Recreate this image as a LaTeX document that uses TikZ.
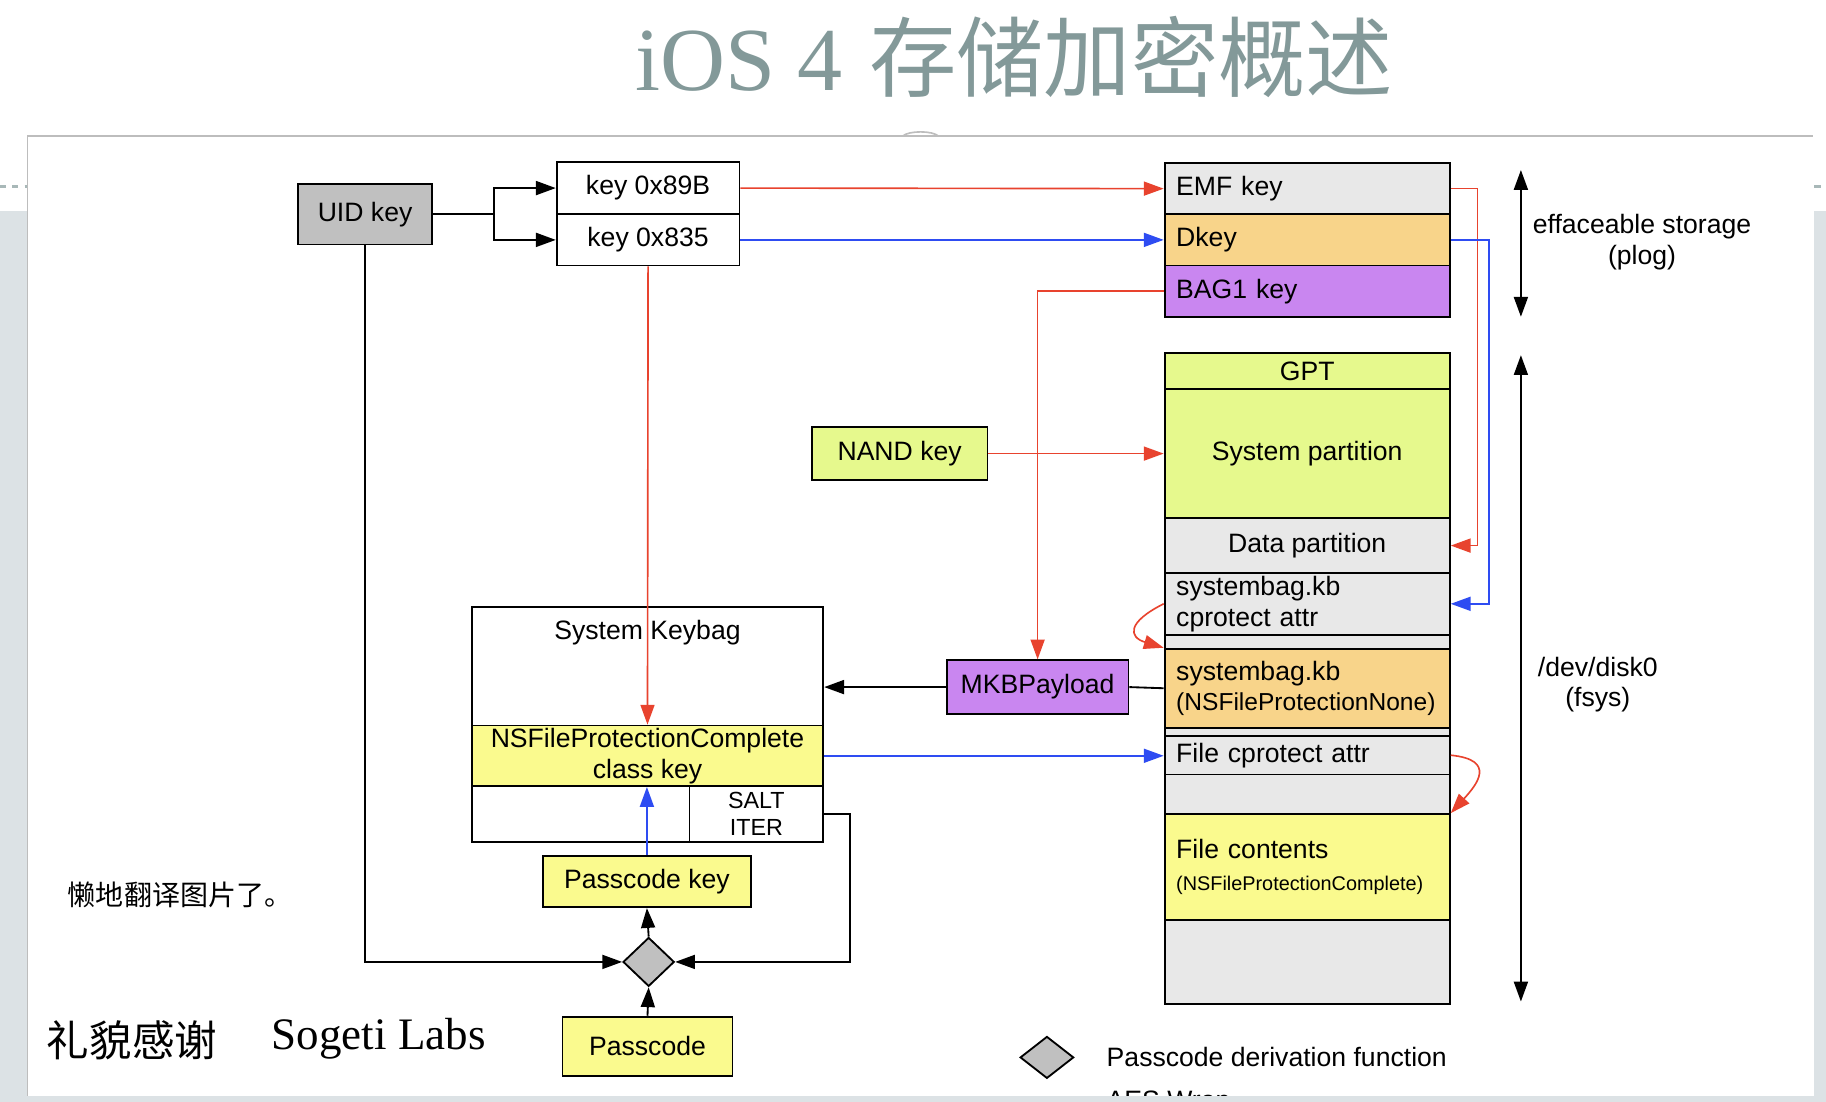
\documentclass[tikz,border=0pt]{standalone}
\usepackage{fontspec}
\setmainfont{Liberation Sans}
\newfontfamily\cjk{Noto Sans CJK SC}
\newfontfamily\titleserif{Liberation Serif}
\usetikzlibrary{arrows.meta,shapes.geometric}
\definecolor{uidgray}{HTML}{C0C0C0}
\definecolor{cellgray}{HTML}{E8E8E8}
\definecolor{orng}{HTML}{F8D48A}
\definecolor{purp}{HTML}{C986F0}
\definecolor{grn}{HTML}{E6F98D}
\definecolor{ylw}{HTML}{FAFA8E}
\definecolor{redl}{HTML}{E8432E}
\definecolor{bluel}{HTML}{2E4CF2}
\definecolor{slidegray}{HTML}{DCE2E5}
\definecolor{titlegray}{HTML}{839999}
\definecolor{panelline}{HTML}{BDBDBD}
\newcommand{\diafont}{\fontsize{13}{15}\selectfont}
\newcommand{\saltfont}{\fontsize{11.4}{13}\selectfont}
\newcommand{\tinyfont}{\fontsize{9.7}{12}\selectfont}
\newcommand{\nonefont}{\fontsize{12}{15}\selectfont}
\tikzset{
  cell/.style={draw=black, line width=0.9pt, inner sep=0pt, font=\diafont},
  ccell/.style={cell, minimum width=4.9cm, align=center},
  lcell/.style={cell, text width=4.5cm, inner xsep=0.2cm, align=left},
  tip/.style={-{Triangle[length=0.34cm,width=0.24cm]}},
  arr/.style={tip, line width=0.9pt},
  redarr/.style={tip, redl, line width=0.8pt},
  bluearr/.style={tip, bluel, line width=0.8pt},
  dblarr/.style={{Triangle[length=0.34cm,width=0.24cm]}-{Triangle[length=0.34cm,width=0.24cm]}, line width=0.9pt},
  pdfun/.style={diamond, draw=black, fill=uidgray, line width=0.9pt, inner sep=0pt, aspect=1}
}
\begin{document}
\begin{tikzpicture}[x=0.02cm,y=-0.02cm]
\useasboundingbox (0,0) rectangle (1568,946);
% slide background
\fill[white] (0,0) rectangle (1568,946);
\fill[slidegray] (0,181) rectangle (23.5,946);
\fill[slidegray] (1558,181) rectangle (1568,946);
\draw[titlegray!70, dashed, line width=1.2pt] (0,160) -- (23,160);
\draw[titlegray!70, dashed, line width=1.2pt] (1558,160) -- (1568,160);
\draw[panelline, line width=0.8pt] (23.5,941) -- (23.5,117) -- (1557,117);
\draw[panelline, line width=0.8pt] (775,117) .. controls (780,112) and (801,112) .. (806,117);
\node[anchor=base, text=titlegray, inner sep=0pt] (title) at (871,78)
  {{\titleserif\fontsize{44}{48}\selectfont iOS 4}\hspace{0.45cm}{\cjk\fontsize{42.7}{48}\selectfont 存储加密概述}};

% keys
\node[cell, fill=uidgray, minimum width=2.3cm, minimum height=1.04cm] (uidkey) at (313.5,184) {UID key};
\node[cell, fill=white, minimum width=3.14cm, minimum height=0.9cm] (keyA) at (556.5,161.5) {key 0x89B};
\node[cell, fill=white, minimum width=3.14cm, minimum height=0.88cm] (keyB) at (556.5,206) {key 0x835};
\node[lcell, fill=cellgray, minimum height=0.88cm] (emf) at (1122.5,162) {EMF key};
\node[lcell, fill=orng, minimum height=0.88cm] (dkey) at (1122.5,206) {Dkey};
\node[lcell, fill=purp, minimum height=0.88cm] (bagkey) at (1122.5,250) {BAG1 key};

% disk layout
\node[ccell, fill=grn, minimum height=0.62cm] (gpt) at (1122.5,318.5) {GPT};
\node[ccell, fill=grn, minimum height=2.22cm] (syspart) at (1122.5,389.5) {System partition};
\node[ccell, fill=cellgray, minimum height=0.94cm] (datapart) at (1122.5,468.5) {Data partition};
\node[lcell, fill=cellgray, minimum height=1.06cm] (sbattr) at (1122.5,518.5) {systembag.kb\\cprotect attr};
\node[ccell, fill=cellgray, minimum height=0.24cm] (gapA) at (1122.5,551) {};
\node[lcell, fill=orng, minimum height=1.36cm] (sbnone) at (1122.5,591) {systembag.kb\\{\nonefont (NSFileProtectionNone)}};
\node[ccell, fill=cellgray, minimum height=0.14cm] (gapB) at (1122.5,628.5) {};
\node[lcell, fill=cellgray, minimum height=0.66cm] (fattr) at (1122.5,648.5) {File cprotect attr};
\node[ccell, fill=cellgray, minimum height=0.68cm] (gapC) at (1122.5,682) {};
\node[lcell, fill=ylw, minimum height=1.82cm] (fcont) at (1122.5,744.5) {File contents\\[1pt]{\tinyfont (NSFileProtectionComplete)}};
\node[ccell, fill=cellgray, minimum height=1.44cm] (gapD) at (1122.5,826) {};

\node[cell, fill=grn, minimum width=3.02cm, minimum height=0.9cm] (nandkey) at (772.5,389.5) {NAND key};
\node[cell, fill=purp, minimum width=3.12cm, minimum height=0.92cm] (mkb) at (891,590) {MKBPayload};

% system keybag
\node[cell, fill=white, minimum width=6.04cm, minimum height=4.04cm] (keybag) at (556,622) {};
\node[font=\diafont, inner sep=0pt] (kbtitle) at (556,543) {System Keybag};
\node[cell, fill=ylw, minimum width=6.04cm, minimum height=1.04cm, align=center] (classkey) at (556,649) {NSFileProtectionComplete\\class key};
\node[cell, minimum width=2.3cm, minimum height=0.96cm, align=center, font=\saltfont] (salt) at (649.5,699) {SALT\\ITER};

\node[cell, fill=ylw, minimum width=3.58cm, minimum height=0.88cm] (pkey) at (555.5,757) {Passcode key};
\node[pdfun, minimum width=0.88cm, minimum height=0.84cm] (pdf) at (557,826) {};
\node[cell, fill=ylw, minimum width=2.92cm, minimum height=1.02cm] (passcode) at (556,898.5) {Passcode};

% connectors
\coordinate (split) at (424,184);
\draw[line width=0.9pt] (uidkey.east) -- (split);
\draw[arr] (split) |- (keyA.west);
\draw[arr] (split) |- (keyB.west);
\draw[redarr] (keyA.east) -- (emf.west);
\draw[bluearr] (keyB.east) -- (dkey.west);
\draw[redarr] (keyB.south) -- (classkey.north);
\draw[redarr] (bagkey.west) -| (mkb.north);
\draw[redarr] (emf.east) -- ++(23,0) |- (datapart.east);
\draw[bluearr] (dkey.east) -- ++(33,0) |- (sbattr.east);
\draw[redarr] (nandkey.east) -- (syspart.west);
\draw[redarr] (sbattr.west) .. controls +(-32,16) and +(-30,-9) .. (sbnone.north west);
\draw[redarr] (fattr.east) .. controls +(40,4) and +(22,-24) .. (fcont.north east);
\draw[line width=0.9pt] (sbnone.west) -- (mkb.east);
\draw[arr] (mkb.west) -- (mkb.west -| keybag.east);
\draw[bluearr] (classkey.east) -- (classkey.east -| fattr.west);
\draw[bluearr] (pkey.north) -- (pkey.north |- classkey.south);
\draw[arr] (pdf.north) -- (pkey.south);
\draw[arr] (passcode.north) -- (pdf.south);
\draw[arr] (uidkey.south) |- (pdf.west);
\draw[arr] (salt.east) -- ++(22,0) |- (pdf.east);

% storage ranges
\coordinate (plogT) at (1306,146);
\coordinate (plogB) at (1306,272);
\coordinate (diskT) at (1306,305);
\coordinate (diskB) at (1306,860);
\draw[dblarr] (plogT) -- (plogB);
\draw[dblarr] (diskT) -- (diskB);
\node[font=\diafont, align=center] (ploglbl) at (1410,208) {effaceable storage\\(plog)};
\node[font=\diafont, align=center] (disklbl) at (1372,588) {/dev/disk0\\(fsys)};

% legend
\node[pdfun, minimum width=0.92cm, minimum height=0.72cm, aspect=1.3] (legdiam) at (899,908) {};
\node[font=\diafont, anchor=west, inner sep=0pt] (leglbl) at (950,908) {Passcode derivation function};
\node[font=\diafont, anchor=base west, inner sep=0pt] (legaes) at (950,953) {AES Wrap};

% notes
\node[anchor=west, inner sep=0pt] (note) at (58,768) {\cjk\fontsize{13.7}{16}\selectfont 懒地翻译图片了。};
\node[anchor=west, inner sep=0pt] (thanks) at (40,893) {\cjk\fontsize{20.8}{24}\selectfont 礼貌感谢};
\node[anchor=west, inner sep=0pt] (labs) at (233,892) {\titleserif\fontsize{22}{26}\selectfont Sogeti Labs};
\fill[slidegray] (0,941) rectangle (1568,946);
\end{tikzpicture}
\end{document}
